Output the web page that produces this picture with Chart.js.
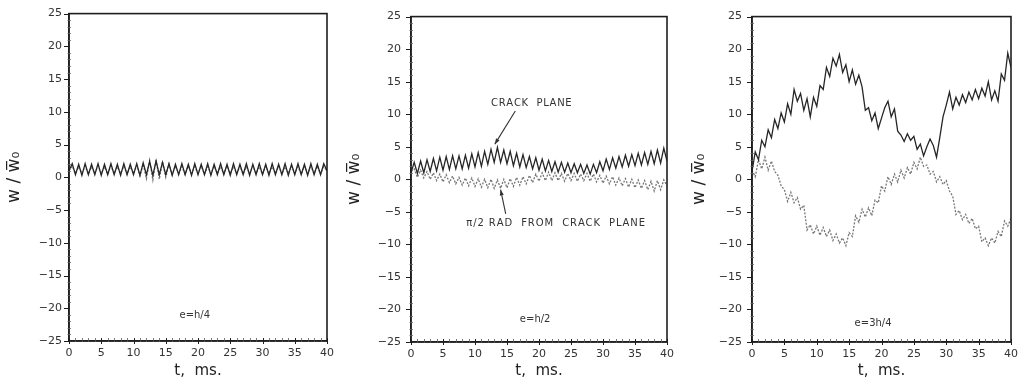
<!DOCTYPE html>
<html>
<head>
<meta charset="utf-8">
<script src="https://cdn.jsdelivr.net/npm/chart.js@4.4.0/dist/chart.umd.min.js"></script>
<style>
  html, body { margin: 0; padding: 0; background: #fff; }
  #wrap { position: relative; width: 1025px; height: 386px; overflow: hidden; }
  canvas { position: absolute; top: 0; }
</style>
</head>
<body>
<div id="wrap">
  <canvas id="c1" width="340" height="386" style="left:0px"></canvas>
  <canvas id="c2" width="340" height="386" style="left:340px"></canvas>
  <canvas id="c3" width="345" height="386" style="left:680px"></canvas>
</div>
<script>
// ---------- DATA ----------
const timeMs = [0,0.5,1,1.5,2,2.5,3,3.5,4,4.5,5,5.5,6,6.5,7,7.5,8,8.5,9,9.5,
  10,10.5,11,11.5,12,12.5,13,13.5,14,14.5,15,15.5,16,16.5,17,17.5,18,18.5,19,19.5,
  20,20.5,21,21.5,22,22.5,23,23.5,24,24.5,25,25.5,26,26.5,27,27.5,28,28.5,29,29.5,
  30,30.5,31,31.5,32,32.5,33,33.5,34,34.5,35,35.5,36,36.5,37,37.5,38,38.5,39,39.5,40];

const xTicks = [0,5,10,15,20,25,30,35,40];
const yTicks = [-25,-20,-15,-10,-5,0,5,10,15,20,25];

// e = h/4
const quarterCrack = [1.0,2.1,0.4,2.0,0.3,2.1,0.4,2.0,0.4,2.1,
  0.3,2.0,0.4,2.1,0.4,2.0,0.3,2.1,0.4,2.0,
  0.4,2.1,0.3,2.2,0.4,2.4,0.3,2.5,0.4,2.3,
  0.4,2.1,0.3,2.0,0.4,2.1,0.4,2.0,0.3,2.1,
  0.4,2.0,0.4,2.1,0.3,2.0,0.4,2.1,0.4,2.0,
  0.3,2.1,0.4,2.0,0.4,2.1,0.3,2.0,0.4,2.1,
  0.4,2.0,0.3,2.1,0.4,2.0,0.4,2.1,0.3,2.0,
  0.4,2.1,0.4,2.0,0.3,2.1,0.4,2.0,0.4,2.1,1.0];
const quarterOff = [1.0,1.7,0.6,1.6,0.6,1.7,0.5,1.6,0.6,1.7,
  0.6,1.6,0.5,1.7,0.6,1.6,0.6,1.7,0.5,1.6,
  0.6,1.8,0.2,2.0,-0.2,2.6,-0.4,2.7,-0.3,2.4,
  0.0,2.0,0.4,1.7,0.6,1.6,0.5,1.7,0.6,1.6,
  0.6,1.7,0.5,1.6,0.6,1.7,0.6,1.6,0.5,1.7,
  0.6,1.6,0.6,1.7,0.5,1.6,0.6,1.7,0.6,1.6,
  0.5,1.7,0.6,1.6,0.6,1.7,0.5,1.6,0.6,1.7,
  0.6,1.6,0.5,1.7,0.6,1.6,0.6,1.7,0.5,1.6,1.0];

// e = h/2
const halfCrack = [1.0,2.6,0.9,2.8,1.0,3.0,1.2,3.2,1.3,3.4,
  1.4,3.5,1.5,3.6,1.6,3.6,1.6,3.7,1.7,3.9,
  1.9,4.1,2.0,4.3,2.3,4.6,2.6,4.9,2.6,4.5,
  2.4,4.3,2.1,4.0,1.9,3.8,1.8,3.5,1.6,3.3,
  1.4,3.1,1.3,2.9,1.2,2.7,1.1,2.6,1.1,2.5,
  1.0,2.4,1.0,2.3,0.9,2.2,0.8,2.3,1.0,2.7,
  1.3,3.1,1.5,3.3,1.7,3.5,1.9,3.7,2.0,3.8,
  2.1,4.0,2.2,4.1,2.3,4.3,2.4,4.5,2.5,4.8,2.8];
const halfOff = [1.2,1.6,0.3,1.4,0.2,1.2,0.0,1.0,-0.2,0.8,
  -0.4,0.7,-0.5,0.5,-0.7,0.3,-0.9,0.2,-1.0,0.2,
  -1.1,0.1,-1.2,0.0,-1.3,0.0,-1.4,-0.1,-1.4,0.0,
  -1.3,0.1,-1.1,0.3,-0.9,0.4,-0.7,0.6,-0.5,0.8,
  -0.3,1.0,-0.2,1.1,-0.2,1.0,-0.2,0.9,-0.3,0.9,
  -0.2,0.9,-0.3,0.8,-0.2,0.9,-0.3,0.8,-0.4,0.6,
  -0.6,0.5,-0.7,0.4,-0.9,0.2,-1.0,0.1,-1.2,0.0,
  -1.3,-0.1,-1.4,-0.2,-1.6,-0.3,-1.8,-0.2,-1.6,-0.1,-1.0];

// e = 3h/4
const threeQCrack = [1.2,4.2,3.0,6.0,5.0,7.6,6.4,9.2,7.8,10.2,
  8.8,11.6,10.0,13.8,12.0,13.2,10.6,12.4,9.6,12.6,
  11.2,14.4,13.8,17.2,15.8,18.6,17.4,19.2,16.4,17.6,
  15.0,16.8,14.6,16.0,14.2,10.6,11.0,9.0,10.2,7.8,
  9.4,11.0,12.0,9.6,10.8,7.4,6.8,5.8,7.0,6.0,
  6.6,4.6,5.4,3.6,5.0,6.2,5.2,3.4,6.4,9.6,
  11.4,13.4,10.8,12.6,11.4,13.0,11.8,13.4,12.2,13.8,
  12.4,14.0,12.8,15.0,12.2,13.6,12.0,16.2,15.2,19.4,17.2];
const threeQOff = [1.4,0.4,3.0,1.6,3.4,1.4,2.8,1.2,0.6,-1.0,
  -1.6,-3.4,-2.0,-3.6,-2.8,-4.6,-4.0,-7.8,-7.0,-8.4,
  -7.2,-8.6,-7.4,-8.8,-7.8,-9.4,-8.4,-9.8,-9.0,-10.2,
  -8.2,-8.8,-5.6,-6.6,-4.6,-5.8,-4.4,-5.6,-3.2,-3.6,
  -1.0,-1.8,0.4,-0.8,0.8,-0.4,1.4,0.2,1.8,0.8,
  2.6,1.6,3.4,2.0,2.2,0.8,1.2,-0.4,0.4,-0.8,
  -0.2,-1.8,-2.6,-5.4,-4.8,-6.2,-5.4,-6.8,-6.0,-7.6,
  -7.2,-9.6,-9.0,-10.2,-9.0,-9.8,-8.0,-8.8,-6.4,-7.2,-6.0];

// ---------- LAYOUT / STYLE ----------
const FONT = "'DejaVu Sans', 'Liberation Sans', sans-serif";
const INK = '#1e1e1e';

function pts(ys) { return ys.map((y, i) => ({ x: timeMs[i], y: y })); }

const framePlugin = {
  id: 'frame',
  afterDraw(chart) {
    const { ctx, chartArea: a, scales: { x, y } } = chart;
    ctx.save();
    ctx.strokeStyle = INK;
    ctx.lineWidth = 1.6;
    ctx.strokeRect(a.left, a.top, a.right - a.left, a.bottom - a.top);
    // ticks on y axis
    for (let v = -25; v <= 25; v++) {
      const py = Math.round(y.getPixelForValue(v)) + 0.5;
      ctx.beginPath();
      if (v % 5 === 0) { ctx.lineWidth = 1; ctx.strokeStyle = INK; ctx.moveTo(a.left - 5, py); ctx.lineTo(a.left + 1, py); }
      else { ctx.lineWidth = 0.8; ctx.strokeStyle = '#666'; ctx.moveTo(a.left - 1.5, py); ctx.lineTo(a.left + 2, py); }
      ctx.stroke();
    }
    // ticks on x axis
    for (let t = 0; t <= 40; t++) {
      const px = Math.round(x.getPixelForValue(t)) + 0.5;
      ctx.beginPath();
      ctx.lineWidth = t % 5 === 0 ? 1 : 0.8;
      ctx.strokeStyle = t % 5 === 0 ? INK : '#555';
      ctx.moveTo(px, a.bottom + (t % 5 === 0 ? 3 : 1));
      ctx.lineTo(px, a.bottom - 3);
      ctx.stroke();
    }
    // annotations
    const notes = chart.options.plugins.frame.notes || [];
    ctx.fillStyle = '#333';
    ctx.textBaseline = 'middle';
    notes.forEach(n => {
      ctx.font = n.font;
      const px = x.getPixelForValue(n.t), py = y.getPixelForValue(n.v);
      const chars = [...n.text];
      const sp = n.spacing || 0;
      const widths = chars.map(c => ctx.measureText(c).width);
      const total = widths.reduce((s, w) => s + w, 0) + sp * (chars.length - 1);
      let cx = px - total / 2;
      ctx.textAlign = 'left';
      chars.forEach((c, i) => { ctx.fillText(c, cx, py); cx += widths[i] + sp; });
    });
    const arrows = chart.options.plugins.frame.arrows || [];
    ctx.strokeStyle = '#333';
    ctx.fillStyle = '#333';
    ctx.lineWidth = 1.1;
    arrows.forEach(ar => {
      const x0 = x.getPixelForValue(ar.from[0]), y0 = y.getPixelForValue(ar.from[1]);
      const x1 = x.getPixelForValue(ar.to[0]), y1 = y.getPixelForValue(ar.to[1]);
      ctx.beginPath(); ctx.moveTo(x0, y0); ctx.lineTo(x1, y1); ctx.stroke();
      const ang = Math.atan2(y1 - y0, x1 - x0), L = 6, W = 0.35;
      ctx.beginPath();
      ctx.moveTo(x1, y1);
      ctx.lineTo(x1 - L * Math.cos(ang - W), y1 - L * Math.sin(ang - W));
      ctx.lineTo(x1 - L * Math.cos(ang + W), y1 - L * Math.sin(ang + W));
      ctx.closePath();
      ctx.fill();
    });
    ctx.restore();
  }
};

function makePanel(id, solid, dashed, lay) {
  new Chart(document.getElementById(id), {
    type: 'line',
    data: {
      datasets: [
        { data: pts(solid), borderColor: '#262626', borderWidth: 1.3, pointRadius: 0, tension: 0, fill: false },
        { data: pts(dashed), borderColor: '#777', borderWidth: 1.3, borderDash: [2, 1.5], pointRadius: 0, tension: 0, fill: false }
      ]
    },
    options: {
      responsive: false,
      animation: false,
      events: [],
      layout: { padding: { top: lay.top, right: lay.right, left: 0, bottom: 0 } },
      plugins: {
        legend: { display: false },
        tooltip: { enabled: false },
        frame: { notes: lay.notes, arrows: lay.arrows }
      },
      scales: {
        x: {
          type: 'linear', min: 0, max: 40,
          afterBuildTicks: s => { s.ticks = xTicks.map(v => ({ value: v })); },
          afterFit: s => { s.height = lay.xh; },
          grid: { display: false, drawTicks: false },
          border: { display: true, color: INK, width: 1.6 },
          ticks: { color: '#333', padding: 6, maxRotation: 0, autoSkip: false, font: { family: FONT, size: 11 } },
          title: { display: true, text: 't,  ms.', color: '#222', padding: { top: 0, bottom: 6 }, font: { family: FONT, size: 15 } }
        },
        y: {
          type: 'linear', min: -25, max: 25,
          afterBuildTicks: s => { s.ticks = yTicks.map(v => ({ value: v })); },
          afterFit: s => { s.width = lay.yw; },
          grid: { display: false, drawTicks: false },
          border: { display: true, color: INK, width: 1.6 },
          ticks: { color: '#333', padding: lay.tp, font: { family: FONT, size: 11 },
                   callback: v => (v < 0 ? '\u2212' + Math.abs(v) : String(v)) },
          title: { display: true, text: 'w / w\u0305\u2080', color: '#222', padding: { top: lay.titlePad, bottom: 0 }, font: { family: FONT, size: 17 } }
        }
      }
    },
    plugins: [framePlugin]
  });
}

const smallFont = "10px " + FONT;

makePanel('c1', quarterCrack, quarterOff, {
  top: 13, right: 12, yw: 69, xh: 45, tp: 7, titlePad: 4,
  notes: [{ text: 'e=h/4', t: 19.5, v: -21.1, font: smallFont }],
  arrows: []
});
makePanel('c2', halfCrack, halfOff, {
  top: 15, right: 9, yw: 71, xh: 44, tp: 10, titlePad: 4,
  notes: [
    { text: 'e=h/2', t: 19.4, v: -21.5, font: smallFont },
    { text: 'CRACK  PLANE', t: 18.8, v: 11.7, font: smallFont, spacing: 0.7 },
    { text: '\u03c0/2 RAD  FROM  CRACK  PLANE', t: 22.6, v: -6.8, font: smallFont, spacing: 0.9 }
  ],
  arrows: [
    { from: [16.3, 10.5], to: [13.1, 5.4] },
    { from: [14.8, -5.3], to: [14.0, -1.6] }
  ]
});
makePanel('c3', threeQCrack, threeQOff, {
  top: 16, right: 14, yw: 72, xh: 44, tp: 10, titlePad: 9,
  notes: [{ text: 'e=3h/4', t: 18.7, v: -22.1, font: smallFont }],
  arrows: []
});
</script>
</body>
</html>
